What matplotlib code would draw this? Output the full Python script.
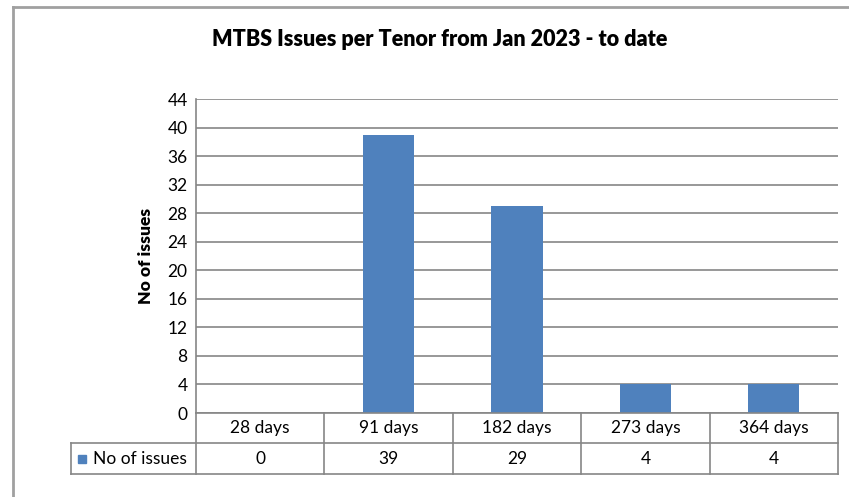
import matplotlib.pyplot as plt
import matplotlib as mpl
from matplotlib.lines import Line2D
from matplotlib.patches import Rectangle

mpl.rcParams["font.family"] = ["Lato", "DejaVu Sans"]

tenors = ["28 days", "91 days", "182 days", "273 days", "364 days"]
issues = [0, 39, 29, 4, 4]
series_name = "No of issues"
yticks = list(range(0, 45, 4))

W, H = 849, 497
bar_color = "#4F81BD"
line_color = "#868686"
fs = 12.5

fig = plt.figure(figsize=(W / 100, H / 100), dpi=100)

def fx(px):
    return px / W

def fy(py):
    return 1 - py / H

left, right, top, bottom = 196, 838, 99, 413
ax = fig.add_axes([fx(left), fy(bottom), fx(right - left), (bottom - top) / H])

x = range(len(tenors))
ax.bar(x, issues, width=0.4, color=bar_color, zorder=3)
ax.set_xlim(-0.5, len(tenors) - 0.5)
ax.set_ylim(0, 44)
ax.set_yticks(yticks)
ax.set_xticks([])
ax.yaxis.grid(True, color=line_color, linewidth=1.2, zorder=0)
ax.tick_params(axis="y", length=0, labelsize=fs, pad=6)
for s in ["top", "right", "bottom"]:
    ax.spines[s].set_visible(False)
ax.spines["left"].set_color(line_color)
ax.spines["left"].set_linewidth(1.2)
ax.set_ylabel("No of issues", fontsize=fs, fontweight="heavy", labelpad=10)

fig.text(fx(440), fy(40), "MTBS Issues per Tenor from Jan 2023 - to date",
         ha="center", va="center", fontsize=15.5, fontweight="heavy")

# outer chart border
fig.add_artist(Line2D([fx(13), fx(13)], [fy(7), 0], color="#A0A0A0", lw=2))
fig.add_artist(Line2D([fx(13), 1], [fy(7), fy(7)], color="#A0A0A0", lw=2))

# data table
row1, row2, row3 = 413, 443, 474
legend_left = 71
colw = (right - left) / len(tenors)

def hline(x0, x1, y):
    fig.add_artist(Line2D([fx(x0), fx(x1)], [fy(y), fy(y)], color=line_color, lw=1.2))

def vline(xp, y0, y1):
    fig.add_artist(Line2D([fx(xp), fx(xp)], [fy(y0), fy(y1)], color=line_color, lw=1.2))

hline(left, right, row1)
hline(legend_left, right, row2)
hline(legend_left, right, row3)
vline(legend_left, row2, row3)
for i in range(len(tenors) + 1):
    vline(left + i * colw, row1, row3)

for i, (t, v) in enumerate(zip(tenors, issues)):
    cx = left + (i + 0.5) * colw
    fig.text(fx(cx), fy((row1 + row2) / 2), t, ha="center", va="center", fontsize=fs)
    fig.text(fx(cx), fy((row2 + row3) / 2), str(v), ha="center", va="center", fontsize=fs)

fig.add_artist(Rectangle((fx(78), fy(463)), fx(8), 8 / H, color=bar_color))
fig.text(fx(93), fy((row2 + row3) / 2), series_name, ha="left", va="center", fontsize=fs)

fig.savefig("out.png", dpi=100)
